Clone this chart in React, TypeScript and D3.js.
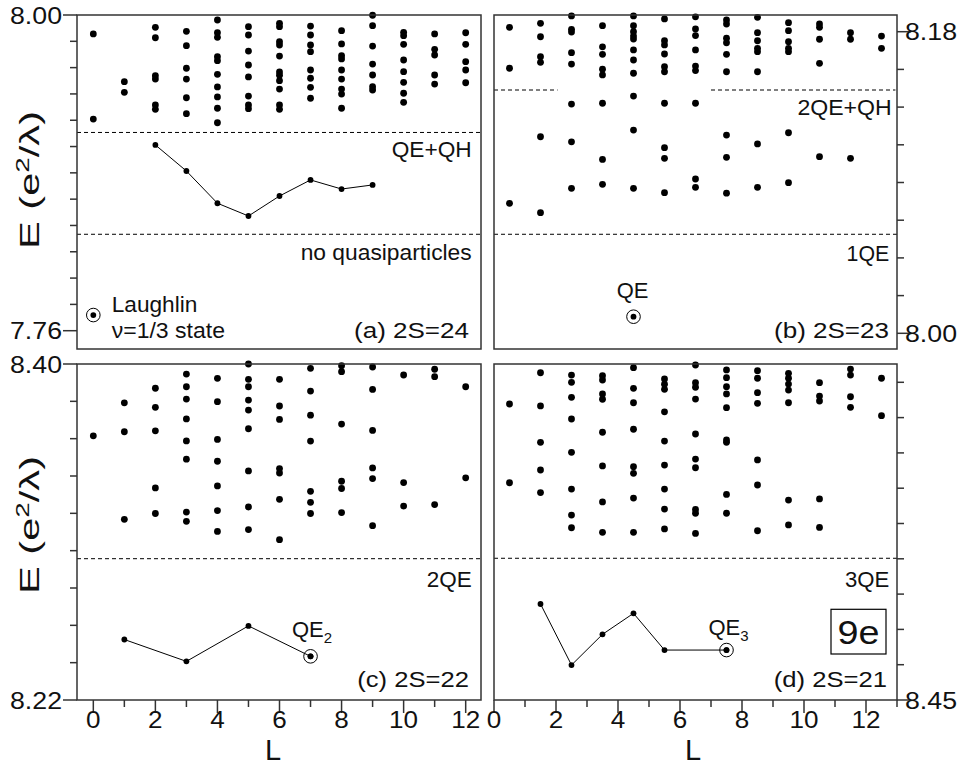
import React from "react";
import * as d3 from "d3";

// ---------- Panel (a) 2S=24 ----------
const aL = [0, 1, 2, 3, 4, 5, 6, 7, 8, 9, 10, 11, 12];
const aE: number[][] = [
  [7.9856, 7.9209],
  [7.9493, 7.9412],
  [7.9906, 7.9827, 7.9539, 7.9513, 7.9316, 7.9283],
  [7.9876, 7.9767, 7.9595, 7.9513, 7.9371, 7.925],
  [7.9962, 7.9865, 7.983, 7.9683, 7.9653, 7.9549, 7.9453, 7.9377, 7.9291, 7.9181],
  [7.9911, 7.9848, 7.9726, 7.962, 7.9529, 7.9384, 7.9316, 7.9288],
  [7.9937, 7.9911, 7.9797, 7.9772, 7.9688, 7.9567, 7.9542, 7.9501, 7.9437, 7.9316, 7.9283],
  [7.9916, 7.9848, 7.9772, 7.9721, 7.9582, 7.9519, 7.945, 7.9367],
  [7.9881, 7.978, 7.9691, 7.9666, 7.9582, 7.9513, 7.9437, 7.9399, 7.9291],
  [7.9998, 7.9919, 7.9764, 7.9627, 7.9544, 7.9455, 7.943],
  [7.9868, 7.9843, 7.9777, 7.9658, 7.9569, 7.9488, 7.9405, 7.9336],
  [7.9856, 7.9739, 7.9696, 7.9544, 7.9475],
  [7.9865, 7.9777, 7.9645, 7.9582, 7.9485],
];
const aLineL = [2, 3, 4, 5, 6, 7, 8, 9];
const aLineE = [7.9012, 7.8814, 7.8569, 7.8472, 7.8624, 7.8746, 7.8677, 7.8708];
const aMarkL = [0];
const aMarkE = [7.7719];
const aDash = [7.9107, 7.8333];
const aTicks = [8.0, 7.98, 7.96, 7.94, 7.92, 7.9, 7.88, 7.86, 7.84, 7.82, 7.8, 7.78, 7.76];
const aTickLabels = ["8.00", "7.76"];

// ---------- Panel (b) 2S=23 ----------
const bL = [0.5, 1.5, 2.5, 3.5, 4.5, 5.5, 6.5, 7.5, 8.5, 9.5, 10.5, 11.5, 12.5];
const bE: number[][] = [
  [8.1826, 8.1582, 8.0776],
  [8.185, 8.177, 8.1651, 8.1617, 8.1173, 8.072],
  [8.1894, 8.1814, 8.1798, 8.1675, 8.1607, 8.1368, 8.1143, 8.0865],
  [8.1836, 8.171, 8.1665, 8.1576, 8.1542, 8.1373, 8.1038, 8.0889],
  [8.1894, 8.1836, 8.18, 8.1774, 8.1756, 8.1691, 8.1631, 8.1552, 8.1416, 8.1213, 8.0865],
  [8.1876, 8.1746, 8.1721, 8.1667, 8.1591, 8.1561, 8.1373, 8.1108, 8.1044, 8.0839],
  [8.1889, 8.1816, 8.1777, 8.1691, 8.1595, 8.1568, 8.1373, 8.0921, 8.0871],
  [8.187, 8.1846, 8.1761, 8.1734, 8.1665, 8.1561, 8.1183, 8.105, 8.0836],
  [8.1886, 8.1794, 8.1746, 8.1701, 8.1681, 8.1561, 8.113, 8.0871],
  [8.1854, 8.1806, 8.174, 8.1701, 8.1681, 8.1197, 8.0899],
  [8.1846, 8.1826, 8.1755, 8.1611, 8.1054],
  [8.1794, 8.1755, 8.1044],
  [8.1774, 8.1701],
];
const bMarkL = [4.5];
const bMarkE = [8.0099];
const bDashUpper = 8.1452;
const bDashUpperSpans = [[0, 2.05], [7.0, 12.95]];
const bDashLower = 8.0591;
const bTicks = [8.0, 8.0225, 8.045, 8.0675, 8.09, 8.1125, 8.135, 8.1575, 8.18];
const bTickLabels = ["8.00", "8.18"];

// ---------- Panel (c) 2S=22 ----------
const cL = [0, 1, 2, 3, 4, 5, 6, 7, 8, 9, 10, 11, 12];
const cE: number[][] = [
  [8.3615],
  [8.3792, 8.3637, 8.3168],
  [8.387, 8.3768, 8.3642, 8.3336, 8.3199],
  [8.3946, 8.3878, 8.3812, 8.3706, 8.3588, 8.349, 8.3207, 8.3157],
  [8.3923, 8.3798, 8.3596, 8.3479, 8.3347, 8.3215, 8.3103],
  [8.4, 8.3918, 8.3878, 8.3807, 8.3753, 8.3653, 8.3427, 8.3234, 8.3113],
  [8.3918, 8.3775, 8.3703, 8.344, 8.3416, 8.3275, 8.3059],
  [8.3977, 8.3855, 8.3726, 8.3587, 8.3318, 8.3259, 8.3199],
  [8.3991, 8.3959, 8.3678, 8.3372, 8.3333, 8.3204],
  [8.3984, 8.3864, 8.3644, 8.3443, 8.3386, 8.3134],
  [8.3941, 8.3365, 8.3239],
  [8.3972, 8.3932, 8.3247],
  [8.3878, 8.339],
];
const cLineL = [1, 3, 5, 7];
const cLineE = [8.2524, 8.2407, 8.2597, 8.2434];
const cMarkL = [7];
const cMarkE = [8.2434];
const cDash = 8.2957;
const cTicks = [8.22, 8.24, 8.26, 8.28, 8.3, 8.32, 8.34, 8.36, 8.38, 8.4];
const cTickLabels = ["8.40", "8.22"];

// ---------- Panel (d) 2S=21 ----------
const dL = [0.5, 1.5, 2.5, 3.5, 4.5, 5.5, 6.5, 7.5, 8.5, 9.5, 10.5, 11.5, 12.5];
const dE: number[][] = [
  [8.6177, 8.5731],
  [8.6354, 8.6166, 8.596, 8.5803, 8.5675],
  [8.6341, 8.63, 8.6215, 8.6092, 8.5903, 8.5695, 8.5548, 8.5476],
  [8.6337, 8.6313, 8.6234, 8.6204, 8.6017, 8.5826, 8.5622, 8.545],
  [8.6383, 8.6266, 8.6184, 8.6034, 8.5822, 8.5784, 8.5644, 8.545],
  [8.6319, 8.6289, 8.626, 8.6133, 8.5967, 8.5831, 8.5695, 8.5582, 8.5469],
  [8.6398, 8.6298, 8.6272, 8.6205, 8.6007, 8.5865, 8.5816, 8.558, 8.5558, 8.5444],
  [8.637, 8.6326, 8.6275, 8.6234, 8.6156, 8.5973, 8.596, 8.5665, 8.5558],
  [8.6366, 8.6323, 8.6241, 8.6181, 8.586, 8.5718, 8.5459],
  [8.6351, 8.6323, 8.629, 8.6256, 8.6184, 8.5633, 8.5492],
  [8.6298, 8.6222, 8.6194, 8.5639, 8.5478],
  [8.6375, 8.6341, 8.6218, 8.6158],
  [8.6323, 8.6111],
];
const dLineL = [1.5, 2.5, 3.5, 4.5, 5.5, 7.5];
const dLineE = [8.5044, 8.4698, 8.4872, 8.4991, 8.4783, 8.4783];
const dMarkL = [7.5];
const dMarkE = [8.4783];
const dDash = 8.5303;
const dTicks = [8.45, 8.47, 8.49, 8.51, 8.53, 8.55, 8.57, 8.59, 8.61, 8.63];
const dTickLabels = ["8.45"];

const xTicks = [0, 1, 2, 3, 4, 5, 6, 7, 8, 9, 10, 11, 12, 13];
const xTickLabels = ["0", "2", "4", "6", "8", "10", "12"];

const FONT = "'Liberation Sans', Arial, Helvetica, sans-serif";
const AX = "#333";

// layout
const colA = { x0: 77, x1: 481 };
const colB = { x0: 494, x1: 897 };
const rowTop = { y0: 15, y1: 349 };
const rowBot = { y0: 364, y1: 700 };

const xInt = d3.scaleLinear().domain([-0.5, 12.5]).range([77.8, 481.2]);
const xHalf = d3.scaleLinear().domain([0, 13]).range([494, 897]);
const yA = d3.scaleLinear().domain([7.76, 8.0]).range([330.7, 15]);
const yB = d3.scaleLinear().domain([8.0, 8.18]).range([333.3, 31.7]);
const yC = d3.scaleLinear().domain([8.22, 8.4]).range([700, 364]);
const yD = d3.scaleLinear().domain([8.45, 8.63]).range([700, 382.3]);

type Sc = d3.ScaleLinear<number, number>;

function Dots({ Ls, Es, x, y }: { Ls: number[]; Es: number[][]; x: Sc; y: Sc }) {
  return (
    <g>
      {Ls.map((l, i) =>
        Es[i].map((e, j) => <circle key={i + "-" + j} cx={x(l)} cy={y(e)} r={3.4} fill="#000" />)
      )}
    </g>
  );
}

function Series({ Ls, Es, x, y }: { Ls: number[]; Es: number[]; x: Sc; y: Sc }) {
  const line = d3
    .line<number>()
    .x((_, i) => x(Ls[i]))
    .y((e) => y(e));
  return (
    <g>
      <path d={line(Es) || ""} fill="none" stroke="#000" strokeWidth={1} />
      {Ls.map((l, i) => (
        <circle key={i} cx={x(l)} cy={y(Es[i])} r={2.9} fill="#000" />
      ))}
    </g>
  );
}

function Marks({ Ls, Es, x, y }: { Ls: number[]; Es: number[]; x: Sc; y: Sc }) {
  return (
    <g>
      {Ls.map((l, i) => (
        <g key={i}>
          <circle cx={x(l)} cy={y(Es[i])} r={6.8} fill="none" stroke="#000" strokeWidth={1} />
          <circle cx={x(l)} cy={y(Es[i])} r={2.9} fill="#000" />
        </g>
      ))}
    </g>
  );
}

function HDash({ e, y, x0, x1 }: { e: number; y: Sc; x0: number; x1: number }) {
  return (
    <line x1={x0} x2={x1} y1={y(e)} y2={y(e)} stroke="#000" strokeWidth={1} strokeDasharray="4,3" />
  );
}

function Box({ x0, x1, y0, y1 }: { x0: number; x1: number; y0: number; y1: number }) {
  return <rect x={x0} y={y0} width={x1 - x0} height={y1 - y0} fill="none" stroke={AX} strokeWidth={1.5} />;
}

function T({
  x,
  y,
  anchor = "start",
  size = 22,
  len,
  children,
}: {
  x: number;
  y: number;
  anchor?: "start" | "middle" | "end";
  size?: number;
  len?: number;
  children: React.ReactNode;
}) {
  return (
    <text
      x={x}
      y={y}
      textAnchor={anchor}
      fontSize={size}
      fontFamily={FONT}
      fill="#111"
      textLength={len}
      lengthAdjust={len ? "spacingAndGlyphs" : undefined}
    >
      {children}
    </text>
  );
}

function YTicks({
  ticks,
  labels,
  y,
  xAxis,
  side,
}: {
  ticks: number[];
  labels: string[];
  y: Sc;
  xAxis: number;
  side: "left" | "right";
}) {
  const dir = side === "left" ? -1 : 1;
  return (
    <g>
      {ticks.map((t, i) => {
        const lab = labels.find((s) => Math.abs(parseFloat(s) - t) < 1e-6);
        const len = lab ? 14 : 7;
        return (
          <g key={i}>
            <line x1={xAxis} x2={xAxis + dir * len} y1={y(t)} y2={y(t)} stroke={AX} strokeWidth={1.5} />
            {lab && (
              <T
                x={side === "left" ? xAxis - 15 : xAxis + 8}
                y={y(t) + 8.5}
                anchor={side === "left" ? "end" : "start"}
                size={23}
                len={52}
              >
                {lab}
              </T>
            )}
          </g>
        );
      })}
    </g>
  );
}

function XTicks({ x, yAxis, maxL }: { x: Sc; yAxis: number; maxL: number }) {
  return (
    <g>
      {xTicks
        .filter((t) => t <= maxL)
        .map((t) => {
          const major = t % 2 === 0;
          const lab = xTickLabels.find((s) => parseFloat(s) === t);
          return (
            <g key={t}>
              <line x1={x(t)} x2={x(t)} y1={yAxis} y2={yAxis + (major ? 13 : 7)} stroke={AX} strokeWidth={1.5} />
              {lab && (
                <T x={x(t)} y={728} anchor="middle" size={23} len={lab.length * 14.5}>
                  {lab}
                </T>
              )}
            </g>
          );
        })}
    </g>
  );
}

function YTitle({ cx, cy }: { cx: number; cy: number }) {
  return (
    <text
      transform={`translate(${cx},${cy}) rotate(-90)`}
      textAnchor="middle"
      fontSize={27}
      fontFamily={FONT}
      fill="#111"
      dy={9}
      textLength={138}
      lengthAdjust="spacingAndGlyphs"
    >
      E (e<tspan dy={-10} fontSize={18}>2</tspan>
      <tspan dy={10}>/λ)</tspan>
    </text>
  );
}

export default function App() {
  return (
    <svg
      width={966}
      height={779}
      style={{ display: "block", position: "absolute", left: 0, top: 0, background: "#fff" }}
    >
      <rect x={0} y={0} width={966} height={779} fill="#fff" />
      {/* Panel a */}
      <HDash e={aDash[0]} y={yA} x0={colA.x0} x1={colA.x1} />
      <HDash e={aDash[1]} y={yA} x0={colA.x0} x1={colA.x1} />
      <Dots Ls={aL} Es={aE} x={xInt} y={yA} />
      <Series Ls={aLineL} Es={aLineE} x={xInt} y={yA} />
      <Marks Ls={aMarkL} Es={aMarkE} x={xInt} y={yA} />
      <Box x0={colA.x0} x1={colA.x1} y0={rowTop.y0} y1={rowTop.y1} />
      <YTicks ticks={aTicks} labels={aTickLabels} y={yA} xAxis={colA.x0} side="left" />
      <T x={471.7} y={156.7} anchor="end" len={80}>QE+QH</T>
      <T x={471.7} y={260} anchor="end" len={171}>no quasiparticles</T>
      <T x={111.7} y={311.7} len={85.7}>Laughlin</T>
      <T x={111.7} y={337.7} len={113.3}>ν=1/3 state</T>
      <T x={469} y={338.3} anchor="end" len={115}>(a) 2S=24</T>

      {/* Panel b */}
      {bDashUpperSpans.map((s, i) => (
        <HDash key={i} e={bDashUpper} y={yB} x0={xHalf(s[0])} x1={xHalf(s[1])} />
      ))}
      <HDash e={bDashLower} y={yB} x0={colB.x0} x1={colB.x1} />
      <Dots Ls={bL} Es={bE} x={xHalf} y={yB} />
      <Marks Ls={bMarkL} Es={bMarkE} x={xHalf} y={yB} />
      <Box x0={colB.x0} x1={colB.x1} y0={rowTop.y0} y1={rowTop.y1} />
      <YTicks ticks={bTicks} labels={bTickLabels} y={yB} xAxis={colB.x1} side="right" />
      <T x={891.7} y={115} anchor="end" len={94.3}>2QE+QH</T>
      <T x={889.3} y={261} anchor="end" len={42.7}>1QE</T>
      <T x={632.5} y={298.3} anchor="middle" len={31.7}>QE</T>
      <T x={889} y={338.3} anchor="end" len={115}>(b) 2S=23</T>

      {/* Panel c */}
      <HDash e={cDash} y={yC} x0={colA.x0} x1={colA.x1} />
      <Dots Ls={cL} Es={cE} x={xInt} y={yC} />
      <Series Ls={cLineL} Es={cLineE} x={xInt} y={yC} />
      <Marks Ls={cMarkL} Es={cMarkE} x={xInt} y={yC} />
      <Box x0={colA.x0} x1={colA.x1} y0={rowBot.y0} y1={rowBot.y1} />
      <YTicks ticks={cTicks} labels={cTickLabels} y={yC} xAxis={colA.x0} side="left" />
      <XTicks x={xInt} yAxis={rowBot.y1} maxL={12} />
      <T x={471.7} y={587.3} anchor="end" len={45}>2QE</T>
      <text x={292} y={636.7} fontSize={22} fontFamily={FONT} fill="#111">
        QE<tspan dy={6} fontSize={15}>2</tspan>
      </text>
      <T x={469} y={687.3} anchor="end" len={111.7}>(c) 2S=22</T>

      {/* Panel d */}
      <HDash e={dDash} y={yD} x0={colB.x0} x1={colB.x1} />
      <Dots Ls={dL} Es={dE} x={xHalf} y={yD} />
      <Series Ls={dLineL} Es={dLineE} x={xHalf} y={yD} />
      <Marks Ls={dMarkL} Es={dMarkE} x={xHalf} y={yD} />
      <Box x0={colB.x0} x1={colB.x1} y0={rowBot.y0} y1={rowBot.y1} />
      <YTicks ticks={dTicks} labels={dTickLabels} y={yD} xAxis={colB.x1} side="right" />
      <XTicks x={xHalf} yAxis={rowBot.y1} maxL={13} />
      <T x={889.3} y={587.3} anchor="end" len={44.3}>3QE</T>
      <text x={708.5} y={635} fontSize={22} fontFamily={FONT} fill="#111">
        QE<tspan dy={6} fontSize={15}>3</tspan>
      </text>
      <rect x={831} y={609.3} width={55} height={44.7} fill="none" stroke="#000" strokeWidth={1.2} />
      <T x={858.5} y={644} anchor="middle" size={33} len={42}>9e</T>
      <T x={887} y={687.3} anchor="end" len={113.3}>(d) 2S=21</T>

      {/* axis titles */}
      <YTitle cx={30} cy={180} />
      <YTitle cx={30} cy={525} />
      <T x={273} y={760} anchor="middle" size={29}>L</T>
      <T x={693} y={760} anchor="middle" size={29}>L</T>
    </svg>
  );
}
